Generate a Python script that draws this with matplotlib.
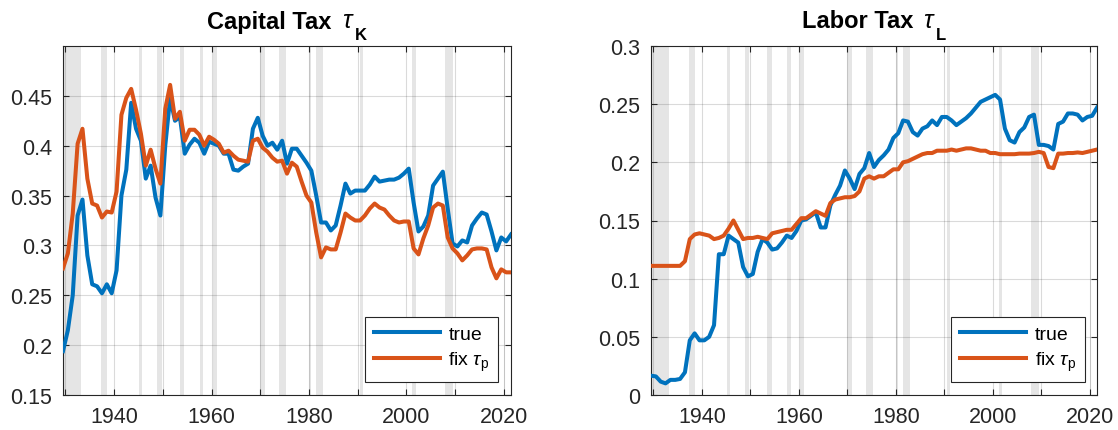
import numpy as np
import matplotlib.pyplot as plt
from matplotlib.transforms import ScaledTranslation

plt.rcParams['font.family'] = ['Liberation Sans', 'DejaVu Sans']
plt.rcParams['mathtext.fontset'] = 'custom'
plt.rcParams['mathtext.rm'] = 'Liberation Sans'
plt.rcParams['mathtext.it'] = 'Liberation Sans:italic'
plt.rcParams['mathtext.bf'] = 'Liberation Sans:bold'

# annual observations, plotted at mid-year
years = np.arange(1929, 2022) + 0.5

cap_true = [0.194, 0.215, 0.250, 0.330, 0.346, 0.290, 0.261, 0.259, 0.252, 0.261,
            0.252, 0.275, 0.350, 0.376, 0.443, 0.417, 0.405, 0.367, 0.380, 0.348,
            0.330, 0.400, 0.448, 0.425, 0.429, 0.392, 0.401, 0.407, 0.403, 0.392,
            0.404, 0.402, 0.400, 0.392, 0.392, 0.376, 0.375, 0.379, 0.382, 0.417,
            0.428, 0.410, 0.400, 0.403, 0.396, 0.405, 0.382, 0.397, 0.397, 0.390,
            0.383, 0.375, 0.350, 0.323, 0.323, 0.315, 0.320, 0.340, 0.362, 0.352,
            0.355, 0.355, 0.355, 0.361, 0.369, 0.364, 0.365, 0.366, 0.366, 0.368,
            0.372, 0.377, 0.343, 0.314, 0.319, 0.330, 0.360, 0.367, 0.374, 0.337,
            0.302, 0.299, 0.305, 0.303, 0.320, 0.327, 0.333, 0.331, 0.314, 0.295,
            0.308, 0.304, 0.311]

cap_fix = [0.277, 0.292, 0.332, 0.402, 0.417, 0.367, 0.342, 0.340, 0.328, 0.334,
           0.333, 0.354, 0.431, 0.448, 0.457, 0.436, 0.412, 0.380, 0.396, 0.377,
           0.362, 0.437, 0.461, 0.427, 0.434, 0.405, 0.416, 0.416, 0.411, 0.400,
           0.409, 0.406, 0.402, 0.393, 0.395, 0.390, 0.386, 0.385, 0.384, 0.405,
           0.407, 0.398, 0.394, 0.388, 0.384, 0.385, 0.372, 0.383, 0.379, 0.364,
           0.350, 0.343, 0.313, 0.288, 0.298, 0.296, 0.296, 0.313, 0.332, 0.328,
           0.325, 0.325, 0.330, 0.337, 0.342, 0.338, 0.336, 0.330, 0.325, 0.323,
           0.324, 0.324, 0.297, 0.291, 0.307, 0.320, 0.338, 0.342, 0.340, 0.308,
           0.297, 0.292, 0.285, 0.290, 0.296, 0.297, 0.297, 0.296, 0.278, 0.267,
           0.276, 0.273, 0.273]

lab_true = [0.0166, 0.016, 0.0115, 0.010, 0.013, 0.013, 0.0138, 0.0195, 0.047, 0.053,
            0.047, 0.047, 0.050, 0.060, 0.121, 0.121, 0.137, 0.134, 0.131, 0.110,
            0.102, 0.104, 0.123, 0.134, 0.131, 0.125, 0.126, 0.131, 0.137, 0.135,
            0.141, 0.150, 0.151, 0.154, 0.157, 0.144, 0.144, 0.163, 0.172, 0.180,
            0.193, 0.186, 0.177, 0.190, 0.195, 0.208, 0.196, 0.202, 0.206, 0.211,
            0.221, 0.225, 0.236, 0.235, 0.226, 0.223, 0.229, 0.231, 0.236, 0.232,
            0.239, 0.239, 0.236, 0.232, 0.235, 0.238, 0.242, 0.247, 0.252, 0.254,
            0.256, 0.258, 0.254, 0.229, 0.219, 0.217, 0.226, 0.230, 0.239, 0.241,
            0.215, 0.215, 0.214, 0.211, 0.233, 0.235, 0.242, 0.242, 0.241, 0.236,
            0.239, 0.240, 0.247]

lab_fix = [0.111, 0.111, 0.111, 0.111, 0.111, 0.111, 0.111, 0.115, 0.134, 0.138,
           0.139, 0.138, 0.137, 0.134, 0.135, 0.137, 0.143, 0.150, 0.142, 0.134,
           0.135, 0.135, 0.136, 0.135, 0.134, 0.139, 0.140, 0.141, 0.142, 0.142,
           0.147, 0.152, 0.152, 0.155, 0.158, 0.156, 0.154, 0.165, 0.168, 0.169,
           0.170, 0.170, 0.171, 0.175, 0.186, 0.188, 0.186, 0.188, 0.188, 0.191,
           0.194, 0.194, 0.200, 0.201, 0.203, 0.205, 0.207, 0.208, 0.208, 0.210,
           0.210, 0.210, 0.211, 0.210, 0.211, 0.212, 0.212, 0.211, 0.210, 0.210,
           0.208, 0.208, 0.207, 0.207, 0.207, 0.207, 0.2075, 0.2075, 0.2075, 0.208,
           0.209, 0.208, 0.196, 0.195, 0.2075, 0.2075, 0.208, 0.208, 0.2085, 0.208,
           0.209, 0.210, 0.211]

# recession periods (start, end)
rec_start = [1929.6, 1937.4, 1945.1, 1948.9, 1953.5, 1957.6, 1960.3, 1969.9,
             1973.9, 1980.0, 1981.5, 1990.5, 2001.2, 2007.9, 2020.1]
rec_end = [1933.2, 1938.5, 1945.8, 1949.8, 1954.4, 1958.3, 1961.1, 1970.9,
           1975.2, 1980.5, 1982.9, 1991.2, 2001.9, 2009.5, 2020.3]

blue = '#0072BD'
orange = '#D95319'
dark = '#262626'

fig = plt.figure(figsize=(11.18, 4.31), dpi=100)
ax1 = fig.add_axes([63/1118, 35/431, 448/1118, 349/431])
ax2 = fig.add_axes([651/1118, 35/431, 446/1118, 349/431])

panels = [
    (ax1, cap_true, cap_fix, 'Capital Tax', 'K', (0.15, 0.5),
     [0.15, 0.2, 0.25, 0.3, 0.35, 0.4, 0.45],
     ['0.15', '0.2', '0.25', '0.3', '0.35', '0.4', '0.45']),
    (ax2, lab_true, lab_fix, 'Labor Tax', 'L', (0, 0.3),
     [0, 0.05, 0.1, 0.15, 0.2, 0.25, 0.3],
     ['0', '0.05', '0.1', '0.15', '0.2', '0.25', '0.3']),
]

xt = list(range(1930, 2030, 10))
xtl = [str(t) if t % 20 == 0 else '' for t in xt]


def px(dx, dy):
    return ScaledTranslation(dx / 100, dy / 100, fig.dpi_scale_trans)


titles = []
for ax, tr, fx, name, sub, ylim, yt, ytl in panels:
    for a, b in zip(rec_start, rec_end):
        ax.axvspan(a, b, color='#e5e5e5', lw=0, zorder=0.2)
    ax.plot(years, tr, color=blue, lw=2.9, label='true', zorder=3)
    ax.plot(years, fx, color=orange, lw=2.9, label=r'fix $\tau_\mathrm{p}$', zorder=3)
    ax.set_xlim(1929.5, 2021.5)
    ax.set_ylim(*ylim)
    ax.set_xticks(xt)
    ax.set_xticklabels(xtl)
    ax.set_yticks(yt)
    ax.set_yticklabels(ytl)
    ax.set_axisbelow(True)
    ax.grid(True, color=dark, alpha=0.17, lw=0.8)
    ax.tick_params(direction='in', top=True, right=True, length=4, width=0.8,
                   colors=dark, labelsize=15.5, pad=8)
    for s in ax.spines.values():
        s.set_color(dark)
        s.set_linewidth(0.8)
    leg = ax.legend(loc='lower right', bbox_to_anchor=(0.972, 0.038), fontsize=14,
                    fancybox=False, framealpha=1, edgecolor=dark, handlelength=3.4,
                    handletextpad=0.45, borderpad=0.45, labelspacing=0.35,
                    borderaxespad=0)
    leg.get_frame().set_linewidth(0.8)

    # title: bold name, tau, lowered bold subscript
    t1 = ax.text(0.5, 1, name, transform=ax.transAxes, ha='left', va='baseline',
                 fontsize=17, fontweight='bold', color='k')
    t2 = ax.text(0.5, 1, r'$\tau$', transform=ax.transAxes, ha='left', va='baseline',
                 fontsize=18, color='k')
    t3 = ax.text(0.5, 1, sub, transform=ax.transAxes, ha='left', va='baseline',
                 fontsize=12, fontweight='bold', color='k')
    titles.append((ax, t1, t2, t3))

fig.canvas.draw()
r = fig.canvas.get_renderer()
for ax, t1, t2, t3 in titles:
    w1 = t1.get_window_extent(r).width
    w2 = t2.get_window_extent(r).width
    w3 = t3.get_window_extent(r).width
    gap1, gap2 = 10, 0
    total = w1 + gap1 + w2 + gap2 + w3
    x0 = -total / 2
    t1.set_transform(ax.transAxes + px(x0, 18.5))
    t2.set_transform(ax.transAxes + px(x0 + w1 + gap1, 18.5))
    t3.set_transform(ax.transAxes + px(x0 + w1 + gap1 + w2 + gap2, 7))

fig.savefig('out.png', dpi=100)
